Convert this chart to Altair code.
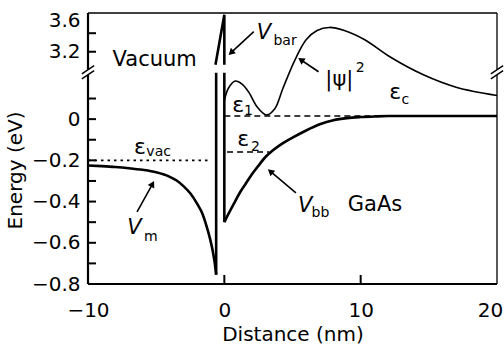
import math
import altair as alt
import pandas as pd

# ---------------- data (distance in nm, energy in eV) ----------------
# image potential on the vacuum side
vm_x = [-10, -9, -8, -7, -6, -5, -4, -3.5, -3, -2.5, -2, -1.6, -1.3, -1.05, -0.85, -0.7, -0.6]
vm_E = [-0.225, -0.228, -0.232, -0.238, -0.246, -0.258, -0.28, -0.298, -0.325, -0.36,
        -0.41, -0.46, -0.52, -0.58, -0.64, -0.70, -0.755]

# band bending on the GaAs side
vbb_x = [0, 0.3, 0.7, 1.2, 1.6, 2.0, 2.4, 3.0, 3.5, 4.0, 5.0, 6.0, 7.0, 8.0, 9.0, 10, 11, 12, 14, 16, 20]
vbb_E = [-0.50, -0.46, -0.41, -0.35, -0.31, -0.27, -0.235, -0.185, -0.155, -0.13, -0.09,
         -0.055, -0.025, -0.005, 0.005, 0.01, 0.013, 0.015, 0.015, 0.015, 0.015]

# barrier (V_bar) outline pieces
bar_piece = ["L", "L", "W", "W", "W", "R", "R"]
bar_order = [0, 1, 0, 1, 2, 0, 1]
bar_x = [-0.6, -0.6, -0.65, 0.0, 0.0, 0.0, 0.0]
bar_E = [-0.755, 0.225, 3.06, 3.6, 3.06, 0.225, -0.5]

# |psi|^2 (arbitrary units, on the plotted scale)
psi_x = [0.0, 0.3, 0.8, 1.3, 1.8, 2.4, 3.1, 3.7, 4.3, 5.2, 6.0, 6.8, 7.7, 8.8, 10.3, 12.2, 14.6, 17.0, 20.0]
psi_y = [0.09, 0.15, 0.185, 0.17, 0.13, 0.06, 0.02, 0.05, 0.15, 0.29, 0.385, 0.43, 0.445,
         0.43, 0.385, 0.30, 0.215, 0.155, 0.115]

# energy levels
vac_E, vac_x0, vac_x1 = [-0.2], [-10], [-1.1]
dash_E = [0.015, -0.16]
dash_x0 = [0.0, 0.2]
dash_x1 = [20.0, 3.3]

# axis ticks
x_tick_vals = [-10, 0, 10, 20]
x_inner_ticks = [0, 10]
y_tick_E = [-0.8, -0.6, -0.4, -0.2, 0, 3.2, 3.6]
y_tick_labels = ["\u22120.8", "\u22120.6", "\u22120.4", "\u22120.2", "0", "3.2", "3.6"]
y_inner_ticks_E = [-0.7, -0.6, -0.5, -0.4, -0.3, -0.2, -0.1, 0, 0.1, 3.2, 3.4]

# broken-axis mapping
B0, BS = 0.327, 0.45
Y_LO, Y_HI = -0.8, 0.515
EXPR = f"datum.E < 1 ? datum.E : {B0} + {BS} * (datum.E - 3.2)"


def disp(e):
    return e if e < 1 else B0 + BS * (e - 3.2)


# annotations
plain_txt = ["Vacuum", "GaAs", "|\u03c8|"]
plain_x = [-8.2, 9.06, 7.41]
plain_y = [0.289, -0.416, 0.191]

eps_x = [12.09, 0.58, 0.94, -6.62]
eps_y = [0.133, 0.07, -0.094, -0.133]

v_x = [2.37, -7.12, 5.40]
v_y = [0.42, -0.527, -0.421]

sub_txt = ["bar", "c", "1", "2", "vac", "m", "bb", "2"]
sub_x = [3.6, 13.0, 1.45, 1.95, -5.72, -5.9, 6.4, 9.64]
sub_y = [0.381, 0.094, 0.041, -0.133, -0.158, -0.571, -0.455, 0.25]

arr_x0 = [2.16, 6.91, -6.4, 5.25]
arr_y0 = [0.425, 0.23, -0.45, -0.358]
arr_x1 = [0.36, 5.47, -5.18, 3.24]
arr_y1 = [0.314, 0.294, -0.304, -0.246]

# ---------------- geometry helpers ----------------
W, H = 409, 271
X_LO, X_HI = -10, 20


def to_px(x, y):
    return (x - X_LO) / (X_HI - X_LO) * W, (Y_HI - y) / (Y_HI - Y_LO) * H


def from_px(px, py):
    return X_LO + px / W * (X_HI - X_LO), Y_HI - py / H * (Y_HI - Y_LO)


lines_rows, heads_rows = [], []
for a, b, c, d in zip(arr_x0, arr_y0, arr_x1, arr_y1):
    p0 = to_px(a, b)
    p1 = to_px(c, d)
    dx, dy = p1[0] - p0[0], p1[1] - p0[1]
    L = math.hypot(dx, dy)
    ux, uy = dx / L, dy / L
    hx, hy = from_px(p1[0] - 3.5 * ux, p1[1] - 3.5 * uy)
    ex, ey = from_px(p1[0] - 4 * ux, p1[1] - 4 * uy)
    ang = math.degrees(math.atan2(dx, -dy)) % 360
    lines_rows.append({"x": a, "y": b, "x2": ex, "y2": ey})
    heads_rows.append({"x": hx, "y": hy, "ang": ang})

# ---------------- scales / axes ----------------
xs = alt.Scale(domain=[X_LO, X_HI], nice=False, zero=False)
ys = alt.Scale(domain=[Y_LO, Y_HI], nice=False, zero=False)

y_disp_ticks = [disp(e) for e in y_tick_E]
lab_expr = "''"
for v, l in zip(y_disp_ticks, y_tick_labels):
    lab_expr = f"abs(datum.value - ({v:.4f})) < 0.001 ? '{l}' : " + lab_expr

y_axis = alt.Axis(values=y_disp_ticks, labelExpr=lab_expr, domain=False, ticks=False,
                  tickSize=0, grid=False, labelPadding=8, labelOverlap=False,
                  labelFontSize=20, title="Energy (eV)", titleFontSize=20,
                  titleAngle=270, titleAlign="center", titleBaseline="middle",
                  titleX=-73, titleY=157,
                  labelOffset={"condition": {"test": "datum.value > 0.5", "value": 6}, "value": 0})
x_axis = alt.Axis(values=x_tick_vals, format="d", domain=False, ticks=False, tickSize=0,
                  grid=False, labelPadding=16, labelFlush=False, labelOverlap=False,
                  labelFontSize=20, title="Distance (nm)", titleFontSize=20,
                  titleBaseline="top", titleY=40,
                  labelOffset={"condition": {"test": "datum.value > 15", "value": -7}, "value": 0})


def X(f="x"):
    return alt.X(f"{f}:Q", scale=xs, axis=x_axis)


def Y(f="d"):
    return alt.Y(f"{f}:Q", scale=ys, axis=y_axis)


# ---------------- layers ----------------
vm = alt.Chart(pd.DataFrame({"x": vm_x, "E": vm_E})).transform_calculate(d=EXPR).mark_line(
    color="black", strokeWidth=2.6, interpolate="monotone").encode(x=X(), y=Y())

vbb = alt.Chart(pd.DataFrame({"x": vbb_x, "E": vbb_E})).transform_calculate(d=EXPR).mark_line(
    color="black", strokeWidth=2.6, interpolate="monotone").encode(x=X(), y=Y())

bar = alt.Chart(pd.DataFrame({"x": bar_x, "E": bar_E, "piece": bar_piece, "o": bar_order})
                ).transform_calculate(d=EXPR).mark_line(
    color="black", strokeWidth=2.6, strokeJoin="miter").encode(
    x=X(), y=Y(), detail="piece:N", order="o:Q")

psi = alt.Chart(pd.DataFrame({"x": psi_x, "y": psi_y})).mark_line(
    color="black", strokeWidth=1.6, interpolate="catmull-rom").encode(x=X(), y=Y("y"))

vac = alt.Chart(pd.DataFrame({"x": vac_x0, "x2": vac_x1, "E": vac_E})).transform_calculate(
    d=EXPR).mark_rule(color="black", strokeWidth=1.6, strokeDash=[2.5, 4]).encode(
    x=X(), x2="x2:Q", y=Y())

lev = alt.Chart(pd.DataFrame({"x": dash_x0, "x2": dash_x1, "E": dash_E})).transform_calculate(
    d=EXPR).mark_rule(color="black", strokeWidth=1.5, strokeDash=[6, 4]).encode(
    x=X(), x2="x2:Q", y=Y())

# frame (broken axes)
BK_LO, BK_HI = 0.215, 0.24
thick = pd.DataFrame({"x": [X_LO, X_LO, X_LO], "x2": [X_LO, X_LO, X_HI],
                      "y": [Y_LO, BK_HI, Y_LO], "y2": [BK_LO, Y_HI, Y_LO]})
thin = pd.DataFrame({"x": [X_LO, X_HI, X_HI], "x2": [X_HI, X_HI, X_HI],
                     "y": [Y_HI, Y_LO, BK_HI], "y2": [Y_HI, BK_LO, Y_HI]})
frame_thick = alt.Chart(thick).mark_rule(color="black", strokeWidth=2.2).encode(
    x=X(), x2="x2:Q", y=Y("y"), y2="y2:Q")
frame_thin = alt.Chart(thin).mark_rule(color="black", strokeWidth=1.3).encode(
    x=X(), x2="x2:Q", y=Y("y"), y2="y2:Q")

sl = []
for xc in (X_LO, X_HI):
    for yc in (BK_LO, BK_HI):
        sl.append({"x": xc - 0.45, "y": yc - 0.02, "x2": xc + 0.45, "y2": yc + 0.02})
slashes = alt.Chart(pd.DataFrame(sl)).mark_rule(color="black", strokeWidth=1.4).encode(
    x=X(), x2="x2:Q", y=Y("y"), y2="y2:Q")

yt = alt.Chart(pd.DataFrame({"x": [X_LO] * len(y_inner_ticks_E), "E": y_inner_ticks_E})
               ).transform_calculate(d=EXPR).mark_rule(
    color="black", strokeWidth=2, x2Offset=8).encode(x=X(), x2="x:Q", y=Y())
xt = alt.Chart(pd.DataFrame({"x": x_inner_ticks, "y": [Y_LO] * len(x_inner_ticks)})).mark_rule(
    color="black", strokeWidth=2, y2Offset=-9).encode(x=X(), y=Y("y"), y2="y:Q")

arrows = alt.Chart(pd.DataFrame(lines_rows)).mark_rule(color="black", strokeWidth=1.6).encode(
    x=X(), x2="x2:Q", y=Y("y"), y2="y2:Q")
heads = alt.Chart(pd.DataFrame(heads_rows)).mark_point(
    shape="triangle", filled=True, color="black", opacity=1, size=55).encode(
    x=X(), y=Y("y"), angle=alt.Angle("ang:Q", scale=None))

FONT = "DejaVu Sans"
t_plain = alt.Chart(pd.DataFrame({"x": plain_x, "y": plain_y, "t": plain_txt})).mark_text(
    font=FONT, fontSize=21, align="left", baseline="middle", color="black").encode(
    x=X(), y=Y("y"), text="t:N")
t_eps = alt.Chart(pd.DataFrame({"x": eps_x, "y": eps_y, "t": ["\u03b5"] * len(eps_x)})).mark_text(
    font=FONT, fontSize=22, align="left", baseline="middle", color="black").encode(
    x=X(), y=Y("y"), text="t:N")
t_v = alt.Chart(pd.DataFrame({"x": v_x, "y": v_y, "t": ["V"] * len(v_x)})).mark_text(
    font=FONT, fontSize=21, fontStyle="italic", align="left", baseline="middle",
    color="black").encode(x=X(), y=Y("y"), text="t:N")
t_sub = alt.Chart(pd.DataFrame({"x": sub_x, "y": sub_y, "t": sub_txt})).mark_text(
    font=FONT, fontSize=14, align="left", baseline="middle", color="black").encode(
    x=X(), y=Y("y"), text="t:N")

chart = alt.layer(
    vm, vbb, bar, psi, vac, lev, frame_thick, frame_thin, slashes, yt, xt,
    arrows, heads, t_plain, t_eps, t_v, t_sub
).properties(
    width=W, height=H, autosize="none",
    padding={"left": 88, "top": 13, "right": 7, "bottom": 61},
    background="white",
).configure_view(stroke=None).configure_axis(
    labelFont=FONT, titleFont=FONT, labelColor="black", titleColor="black",
    titleFontWeight="normal")

chart.save("out.html", embed_options={"renderer": "svg", "actions": False})
